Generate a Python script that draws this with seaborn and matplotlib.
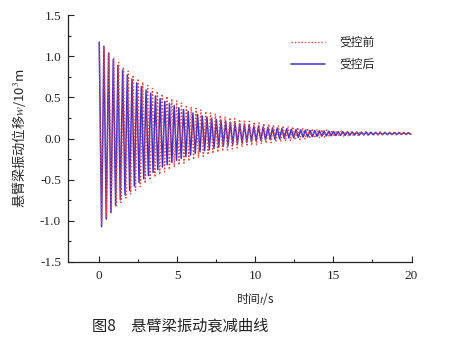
import numpy as np
import pandas as pd
import matplotlib
matplotlib.use("Agg")
import matplotlib.pyplot as plt
import seaborn as sns
from matplotlib.ticker import FixedLocator

# ---- data ----
series_names = ["受控前", "受控后"]

# successive extrema (peak, trough, peak, ...) of the displacement, 10^-3 m
before_halfperiod = 0.155   # s between successive extrema, uncontrolled
after_halfperiod = 0.15     # s between successive extrema, controlled

before_extrema = [
    1.16, -1.04, 1.110, -0.956, 1.043, -0.892, 0.982, -0.832, 0.924, -0.776,
    0.869, -0.723, 0.818, -0.674, 0.771, -0.628, 0.726, -0.585, 0.684, -0.544,
    0.645, -0.506, 0.608, -0.470, 0.573, -0.437, 0.541, -0.406, 0.511, -0.376,
    0.482, -0.349, 0.456, -0.323, 0.431, -0.299, 0.407, -0.276, 0.385, -0.255,
    0.365, -0.235, 0.346, -0.216, 0.328, -0.199, 0.311, -0.183, 0.295, -0.167,
    0.280, -0.153, 0.266, -0.140, 0.253, -0.127, 0.241, -0.115, 0.230, -0.104,
    0.219, -0.094, 0.209, -0.084, 0.200, -0.075, 0.191, -0.067, 0.183, -0.059,
    0.175, -0.051, 0.168, -0.044, 0.161, -0.038, 0.155, -0.032, 0.149, -0.026,
    0.143, -0.020, 0.136, -0.012, 0.130, -0.006, 0.124, 0.000, 0.118, 0.005,
    0.113, 0.010, 0.108, 0.015, 0.104, 0.019, 0.100, 0.023, 0.096, 0.026,
    0.093, 0.029, 0.090, 0.032, 0.087, 0.034, 0.085, 0.037, 0.083, 0.039,
    0.081, 0.041, 0.079, 0.043, 0.077, 0.044, 0.076, 0.046, 0.075, 0.047,
    0.074, 0.048, 0.073, 0.049, 0.072, 0.049, 0.071, 0.050, 0.070, 0.051,
]

after_extrema = [
    1.17, -1.07, 1.12, -0.98, 1.04, -0.90, 0.960, -0.815, 0.890, -0.745,
    0.830, -0.682, 0.774, -0.628, 0.723, -0.578, 0.675, -0.532, 0.630, -0.489,
    0.589, -0.450, 0.551, -0.413, 0.516, -0.379, 0.483, -0.347, 0.452, -0.318,
    0.424, -0.290, 0.398, -0.265, 0.373, -0.242, 0.351, -0.220, 0.330, -0.200,
    0.310, -0.181, 0.292, -0.163, 0.275, -0.147, 0.260, -0.132, 0.245, -0.118,
    0.232, -0.106, 0.220, -0.094, 0.208, -0.083, 0.197, -0.072, 0.187, -0.063,
    0.178, -0.054, 0.170, -0.046, 0.162, -0.038, 0.154, -0.031, 0.148, -0.024,
    0.141, -0.018, 0.135, -0.013, 0.130, -0.007, 0.125, -0.003, 0.120, 0.002,
    0.116, 0.006, 0.112, 0.010, 0.108, 0.014, 0.105, 0.017, 0.101, 0.020,
    0.098, 0.023, 0.096, 0.026, 0.093, 0.028, 0.091, 0.031, 0.088, 0.033,
    0.086, 0.035, 0.084, 0.037, 0.083, 0.038, 0.081, 0.040, 0.080, 0.041,
    0.079, 0.042, 0.078, 0.043, 0.077, 0.044, 0.076, 0.045, 0.075, 0.046,
    0.074, 0.047, 0.074, 0.047, 0.073, 0.048, 0.073, 0.048, 0.072, 0.049,
    0.072, 0.049, 0.071, 0.050,
]

x_ticks = [0, 5, 10, 15, 20]
y_ticks = [-1.5, -1.0, -0.5, 0.0, 0.5, 1.0, 1.5]

# ---- build table ----
t_before = np.arange(len(before_extrema)) * before_halfperiod
t_after = np.arange(len(after_extrema)) * after_halfperiod
df = pd.concat([
    pd.DataFrame({"t": t_before, "w": before_extrema, "series": series_names[0]}),
    pd.DataFrame({"t": t_after, "w": after_extrema, "series": series_names[1]}),
], ignore_index=True)

sns.set_theme(style="ticks")
plt.rcParams["font.family"] = ["Noto Sans CJK SC", "DejaVu Sans"]
plt.rcParams["mathtext.fontset"] = "stix"
plt.rcParams["axes.unicode_minus"] = False

fig = plt.figure(figsize=(4.5, 3.41), dpi=100)
ax = fig.add_axes([68 / 450, 79 / 341, 343.5 / 450, 247 / 341])

red = "#e8423c"
blue = "#3b30d4"
sns.lineplot(data=df, x="t", y="w", hue="series", style="series",
             hue_order=series_names, style_order=series_names,
             palette={series_names[0]: red, series_names[1]: blue},
             dashes={series_names[0]: (1, 1.4), series_names[1]: ""},
             estimator=None, sort=False, linewidth=1.1, ax=ax)

# red dotted on top of blue
for ln in ax.lines:
    if matplotlib.colors.to_hex(ln.get_color()) == red:
        ln.set_zorder(3)
        ln.set_linewidth(1.0)

ax.set_xlim(-2, 20)
ax.set_ylim(-1.5, 1.5)
ax.xaxis.set_major_locator(FixedLocator(x_ticks))
ax.xaxis.set_minor_locator(FixedLocator([2.5, 7.5, 12.5, 17.5]))
ax.yaxis.set_major_locator(FixedLocator(y_ticks))
ax.yaxis.set_minor_locator(FixedLocator(np.arange(-1.25, 1.5, 0.5)))
ax.set_xticklabels([str(v) for v in x_ticks], family="Liberation Serif", fontsize=9.5)
ax.set_yticklabels([f"{v:.1f}" for v in y_ticks], family="Liberation Serif", fontsize=9.5)
ax.tick_params(which="major", direction="in", length=4, width=0.8, color="#222222", pad=5)
ax.tick_params(which="minor", direction="in", length=2.5, width=0.8, color="#222222")
ax.tick_params(axis="x", pad=6)
for s in ["top", "right"]:
    ax.spines[s].set_visible(False)
for s in ["left", "bottom"]:
    ax.spines[s].set_linewidth(0.9)
    ax.spines[s].set_color("#222222")

ax.set_xlabel("时间$t$/s", fontsize=8.5)
ax.xaxis.set_label_coords(12 / 22, -29 / 247, transform=ax.transAxes)
ax.set_ylabel("悬臂梁振动位移$w$/10$^3$m", fontsize=9.5)
ax.yaxis.set_label_coords(-40 / 343.5, 0.5, transform=ax.transAxes)

handles, labels = ax.get_legend_handles_labels()
leg = ax.legend(handles, labels, loc="upper left",
                bbox_to_anchor=(291 / 450, 1 - 36 / 341), bbox_transform=fig.transFigure,
                frameon=False, fontsize=8.5, handlelength=2.9, handletextpad=1.2,
                labelspacing=0.75, borderpad=0, borderaxespad=0)

fig.text(92 / 450, 1 - 326 / 341, "图8　悬臂梁振动衰减曲线", fontsize=11,
         ha="left", va="center", color="#222222")

fig.savefig("out.png", dpi=100)
